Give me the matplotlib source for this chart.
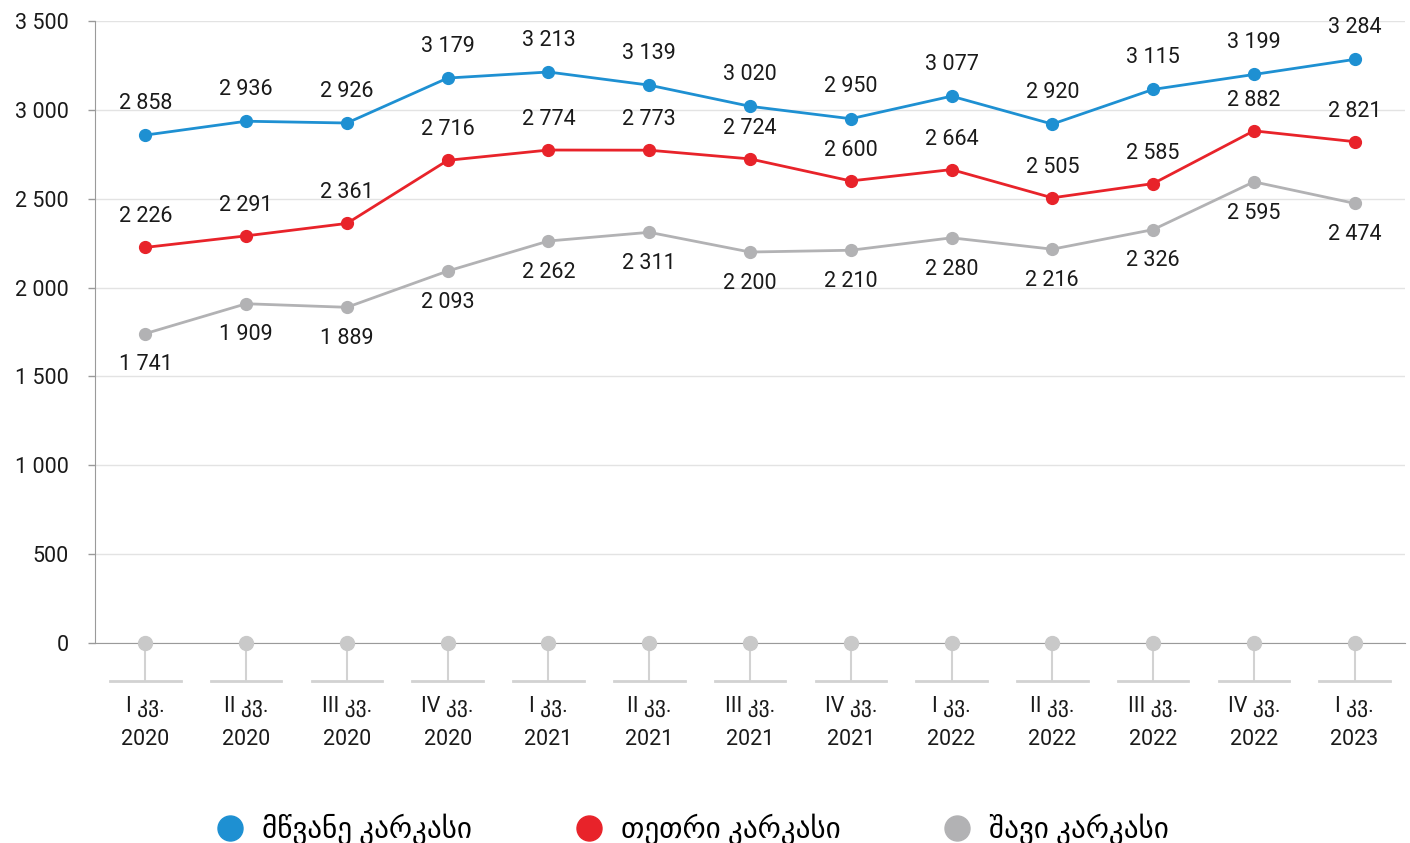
import numpy as np
import matplotlib
matplotlib.use('Agg')
import matplotlib.pyplot as plt
from matplotlib.lines import Line2D

plt.rcParams['font.family'] = ['Roboto', 'DejaVu Sans']

quarters = ['I კვ.\n2020', 'II კვ.\n2020', 'III კვ.\n2020', 'IV კვ.\n2020',
            'I კვ.\n2021', 'II კვ.\n2021', 'III კვ.\n2021', 'IV კვ.\n2021',
            'I კვ.\n2022', 'II კვ.\n2022', 'III კვ.\n2022', 'IV კვ.\n2022',
            'I კვ.\n2023']
green = [2858, 2936, 2926, 3179, 3213, 3139, 3020, 2950, 3077, 2920, 3115, 3199, 3284]
white = [2226, 2291, 2361, 2716, 2774, 2773, 2724, 2600, 2664, 2505, 2585, 2882, 2821]
black = [1741, 1909, 1889, 2093, 2262, 2311, 2200, 2210, 2280, 2216, 2326, 2595, 2474]
names = ['მწვანე კარკასი', 'თეთრი კარკასი', 'შავი კარკასი']
colors = ['#1e90d2', '#e8232a', '#b2b2b4']

def fmt(v):
    return '{:,}'.format(int(v)).replace(',', ' ')

fig = plt.figure(figsize=(14.1, 8.43), dpi=100)
ax = fig.add_axes([95/1410, 1-643/843, 1310/1410, 622/843])
x = np.arange(len(quarters))

series = [(green, colors[0], 23), (white, colors[1], 22), (black, colors[2], -22.5)]
for vals, c, off in series:
    ax.plot(x, vals, color=c, lw=2, marker='o', ms=8.5, zorder=3)
    for xi, v in zip(x, vals):
        ax.annotate(fmt(v), (xi, v), xytext=(0, off), textcoords='offset points',
                    ha='center', va='center', fontsize=15.5, color='#1a1a1a')

# grey dots on the zero line with stems and little bases
ax.plot(x, [0]*len(x), 'o', color='#c9c9c9', ms=10, zorder=4, clip_on=False)
for xi in x:
    ax.plot([xi, xi], [0, -210], color='#d2d2d2', lw=1.5, clip_on=False, zorder=2)
    ax.plot([xi-0.35, xi+0.35], [-212, -212], color='#d2d2d2', lw=2, clip_on=False, zorder=2)

ax.set_xlim(-0.5, len(x)-0.5)
ax.set_ylim(0, 3500)
ax.set_yticks(np.arange(0, 3501, 500))
ax.set_yticklabels([fmt(v) for v in np.arange(0, 3501, 500)])
ax.set_xticks(x)
ax.set_xticklabels(quarters, linespacing=1.75)
ax.tick_params(axis='x', length=0, pad=38, labelsize=15.5, colors='#1a1a1a')
ax.tick_params(axis='y', length=5, width=1, color='#9a9a9a', pad=14, labelsize=15.5, labelcolor='#1a1a1a')
ax.grid(axis='y', color='#e3e3e3', lw=1)
ax.set_axisbelow(True)
for s in ['top', 'right']:
    ax.spines[s].set_visible(False)
ax.spines['left'].set_color('#9a9a9a')
ax.spines['bottom'].set_color('#9a9a9a')
ax.spines['bottom'].set_zorder(1)

handles = [Line2D([], [], ls='none', marker='o', ms=18, color=c) for c in colors]
fig.legend(handles, names, loc='center', bbox_to_anchor=(0.49, 1-829/843), ncol=3,
           frameon=False, fontsize=21, columnspacing=3.4, handletextpad=0.5,
           handlelength=1.2)

plt.savefig('out.png')
